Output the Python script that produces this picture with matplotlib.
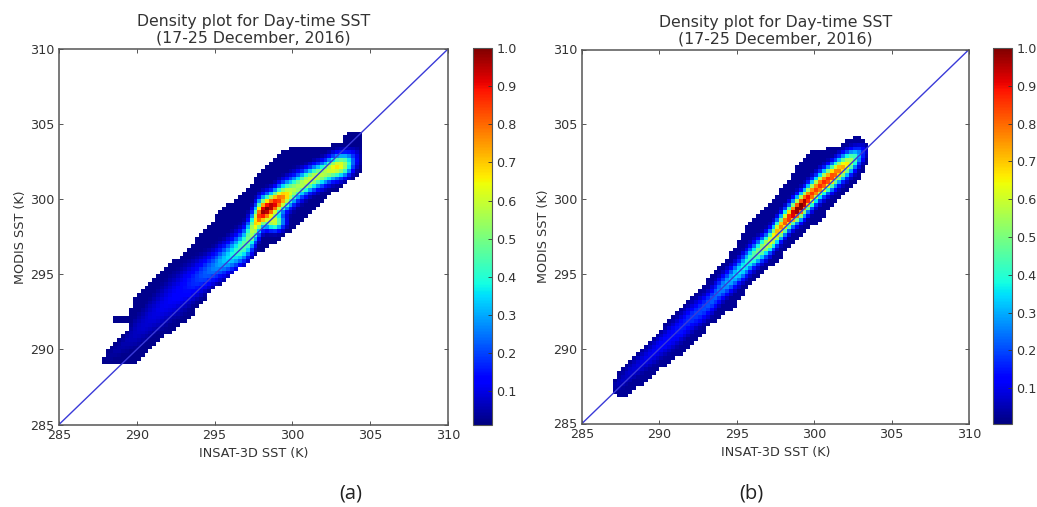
import numpy as np
import matplotlib
matplotlib.use("Agg")
import matplotlib.pyplot as plt

# ---- values ----
title_text = "Density plot for Day-time SST\n(17-25 December, 2016)"
x_label = "INSAT-3D SST (K)"
y_label = "MODIS SST (K)"
axis_ticks = [285, 290, 295, 300, 305, 310]
cbar_ticks = [0.1, 0.2, 0.3, 0.4, 0.5, 0.6, 0.7, 0.8, 0.9, 1.0]
captions = ["(a)", "(b)"]

a_upper_x = [287.7, 288.55, 289.5, 289.7, 291.2, 292.0, 293.2, 294.5, 295.5, 296.5, 297.7, 298.5, 299.9, 302.3, 303.3, 303.4, 304.6]
a_upper_y = [289.4, 290.4, 291.5, 293.4, 294.9, 295.6, 296.6, 298.1, 299.4, 300.0, 301.5, 302.5, 303.5, 303.6, 303.8, 304.5, 304.5]
a_lower_x = [287.7, 288.3, 289.8, 291.3, 293.5, 294.7, 296.0, 297.7, 300.3, 301.6, 303.3, 304.6]
a_lower_y = [289.1, 288.9, 288.9, 290.5, 292.1, 293.8, 294.9, 296.3, 298.1, 299.6, 300.9, 301.9]
a_ridge_x = [288, 289, 290, 291, 292, 293, 294, 295, 296, 297, 297.5, 298, 298.5, 299, 299.5, 300, 300.5, 301, 301.5, 302, 302.5, 303, 303.5, 304, 304.5]
a_ridge_y = [289.5, 290.3, 291.2, 292.2, 293.2, 294.0, 294.8, 295.5, 296.2, 297.0, 298.1, 299.1, 299.4, 299.8, 300.2, 300.5, 300.9, 301.2, 301.5, 301.7, 302.0, 302.2, 302.3, 302.6, 302.9]
a_ridge_peak = [.04, .05, .07, .09, .11, .13, .19, .26, .36, .48, .66, 1.0, 1.0, .9, .72, .56, .55, .62, .60, .56, .62, .70, .52, .12, .04]
a_ridge_sigma = [.5, .6, .8, .9, 1.0, 1.0, .8, .7, .7, .7, .7, .6, .55, .55, .6, .6, .55, .5, .5, .5, .5, .5, .5, .5, .5]
a_blob_x = [298.8]
a_blob_y = [298.5]
a_blob_peak = [.72]
a_spur_x = [288.75, 289.0, 289.25]
a_spur_y = [292.0, 292.0, 292.0]

b_upper_x = [286.9, 288.1, 289.8, 290.7, 291.7, 292.6, 293.7, 294.8, 295.7, 296.0, 297.2, 298.4, 299.1, 299.8, 301.5, 302.8, 303.4]
b_upper_y = [287.8, 289.3, 290.9, 292.05, 293.05, 294.05, 295.3, 296.6, 298.3, 298.7, 299.7, 301.4, 302.5, 303.2, 303.5, 304.4, 303.85]
b_lower_x = [286.9, 287.7, 289.4, 290.7, 291.7, 293.3, 294.8, 296.0, 297.6, 299.3, 300.1, 301.5, 302.8, 303.4]
b_lower_y = [287.0, 286.7, 288.0, 289.15, 289.8, 291.6, 292.7, 294.5, 295.8, 297.8, 298.3, 299.8, 301.2, 302.3]
b_ridge_x = [287, 288, 289, 290, 291, 292, 293, 294, 295, 296, 297, 297.5, 298, 298.5, 299, 299.5, 300, 300.5, 301, 301.5, 302, 302.5, 303, 303.4]
b_ridge_y = [287.3, 288.3, 289.2, 290.1, 291.0, 292.0, 292.8, 294.0, 295.0, 296.1, 297.0, 297.6, 298.3, 298.9, 299.4, 299.9, 300.5, 301.0, 301.4, 301.8, 302.2, 302.6, 303.0, 303.3]
b_ridge_peak = [.05, .07, .09, .11, .13, .16, .19, .25, .33, .42, .58, .72, .80, .88, 1.0, .90, .78, .82, .80, .74, .66, .52, .20, .06]
b_ridge_sigma = [.4, .45, .5, .55, .6, .6, .55, .5, .5, .5, .45, .45, .45, .45, .5, .5, .5, .5, .5, .5, .5, .45, .4, .3]

# ---- layout and style ----
W, H = 1037, 507
TEXT = "#333333"
EDGE = "#555555"
FS = 9.2
plt.rcParams["font.family"] = "DejaVu Sans"

def box(l, r, t, b):
    return [l / W, 1 - b / H, (r - l) / W, (b - t) / H]

def soften(Z):
    kernel = np.array([1.0, 2.0, 1.0]) / 4
    out = np.apply_along_axis(lambda v: np.convolve(v, kernel, mode="same"), 0, Z)
    return np.apply_along_axis(lambda v: np.convolve(v, kernel, mode="same"), 1, out)

def density(upper_x, upper_y, lower_x, lower_y, rx, ry, rp, rs,
            blobs=(), spur=(), floor=0.025, bin_w=0.25):
    edges = np.arange(285, 310 + bin_w / 2, bin_w)
    cx = (edges[:-1] + edges[1:]) / 2
    X, Y = np.meshgrid(cx, cx)
    up = np.interp(X, upper_x, upper_y)
    lo = np.interp(X, lower_x, lower_y)
    r = np.interp(X, rx, ry)
    p = np.interp(X, rx, rp)
    s = np.interp(X, rx, rs)
    s_up = np.minimum(s, np.maximum((up - r) / 1.8, .1))
    s_lo = np.minimum(s, np.maximum((r - lo) / 1.8, .1))
    d = Y - r
    sig = np.where(d > 0, s_up, s_lo)
    Z = p * np.exp(-0.5 * (d / sig) ** 2)
    for bx, by, bp in blobs:
        Z = np.maximum(Z, bp * np.exp(-0.5 * (((X - bx) / .4) ** 2 + ((Y - by) / .35) ** 2)))
    inside = (Y >= lo) & (Y <= up) & (X >= min(upper_x)) & (X <= max(upper_x))
    Z = np.where(inside, Z, 0.0)
    Z = soften(Z)
    Z = Z / Z.max()
    Z = np.maximum(Z, floor)
    for sx, sy in spur:
        inside |= (np.abs(X - sx) <= bin_w / 2) & (np.abs(Y - sy) <= bin_w / 2)
    return edges, np.ma.masked_where(~inside, Z)

def panel(fig, ax_box, cb_box, edges, Z, vmin):
    ax = fig.add_axes(box(*ax_box))
    mesh = ax.pcolormesh(edges, edges, Z, cmap="jet", vmin=vmin, vmax=1.0,
                         shading="flat", rasterized=True)
    ax.plot(axis_ticks, axis_ticks, color="#3a3ad8", lw=1.0)
    ax.set_xlim(285, 310)
    ax.set_ylim(285, 310)
    ax.set_xticks(axis_ticks)
    ax.set_yticks(axis_ticks)
    ax.tick_params(direction="in", top=True, right=True, length=3.2, width=0.7,
                   color=EDGE, labelcolor=TEXT, labelsize=FS, pad=3.5)
    for sp in ax.spines.values():
        sp.set_color(EDGE)
        sp.set_linewidth(1.1)
    ax.set_title(title_text, fontsize=11.3, color=TEXT, pad=4.5, linespacing=1.12)
    ax.set_xlabel(x_label, fontsize=9.2, color=TEXT, labelpad=3)
    ax.set_ylabel(y_label, fontsize=9.2, color=TEXT, labelpad=2)
    cax = fig.add_axes(box(*cb_box))
    cb = fig.colorbar(mesh, cax=cax)
    cb.set_ticks(cbar_ticks)
    cb.set_ticklabels([f"{t:.1f}" for t in cbar_ticks])
    cax.tick_params(direction="in", length=3, width=0.6, color="#333333",
                    labelcolor=TEXT, labelsize=FS, pad=3)
    cb.outline.set_edgecolor(EDGE)
    cb.outline.set_linewidth(0.8)

fig = plt.figure(figsize=(W / 100, H / 100), dpi=100, facecolor="white")

edges_a, Z_a = density(a_upper_x, a_upper_y, a_lower_x, a_lower_y,
                       a_ridge_x, a_ridge_y, a_ridge_peak, a_ridge_sigma,
                       blobs=list(zip(a_blob_x, a_blob_y, a_blob_peak)),
                       spur=list(zip(a_spur_x, a_spur_y)))
panel(fig, (59, 448, 49, 424.5), (473, 492, 48, 425), edges_a, Z_a, 0.012)

edges_b, Z_b = density(b_upper_x, b_upper_y, b_lower_x, b_lower_y,
                       b_ridge_x, b_ridge_y, b_ridge_peak, b_ridge_sigma)
panel(fig, (582, 969, 49.5, 423.5), (993, 1012, 48, 424), edges_b, Z_b, 0.005)

fig.text(351 / W, 1 - 494 / H, captions[0], ha="center", va="center",
         fontsize=14.5, family="Open Sans", color="#222222")
fig.text(751 / W, 1 - 494 / H, captions[1], ha="center", va="center",
         fontsize=14.5, family="Open Sans", color="#222222")

fig.savefig("out.png", dpi=100, facecolor="white")
